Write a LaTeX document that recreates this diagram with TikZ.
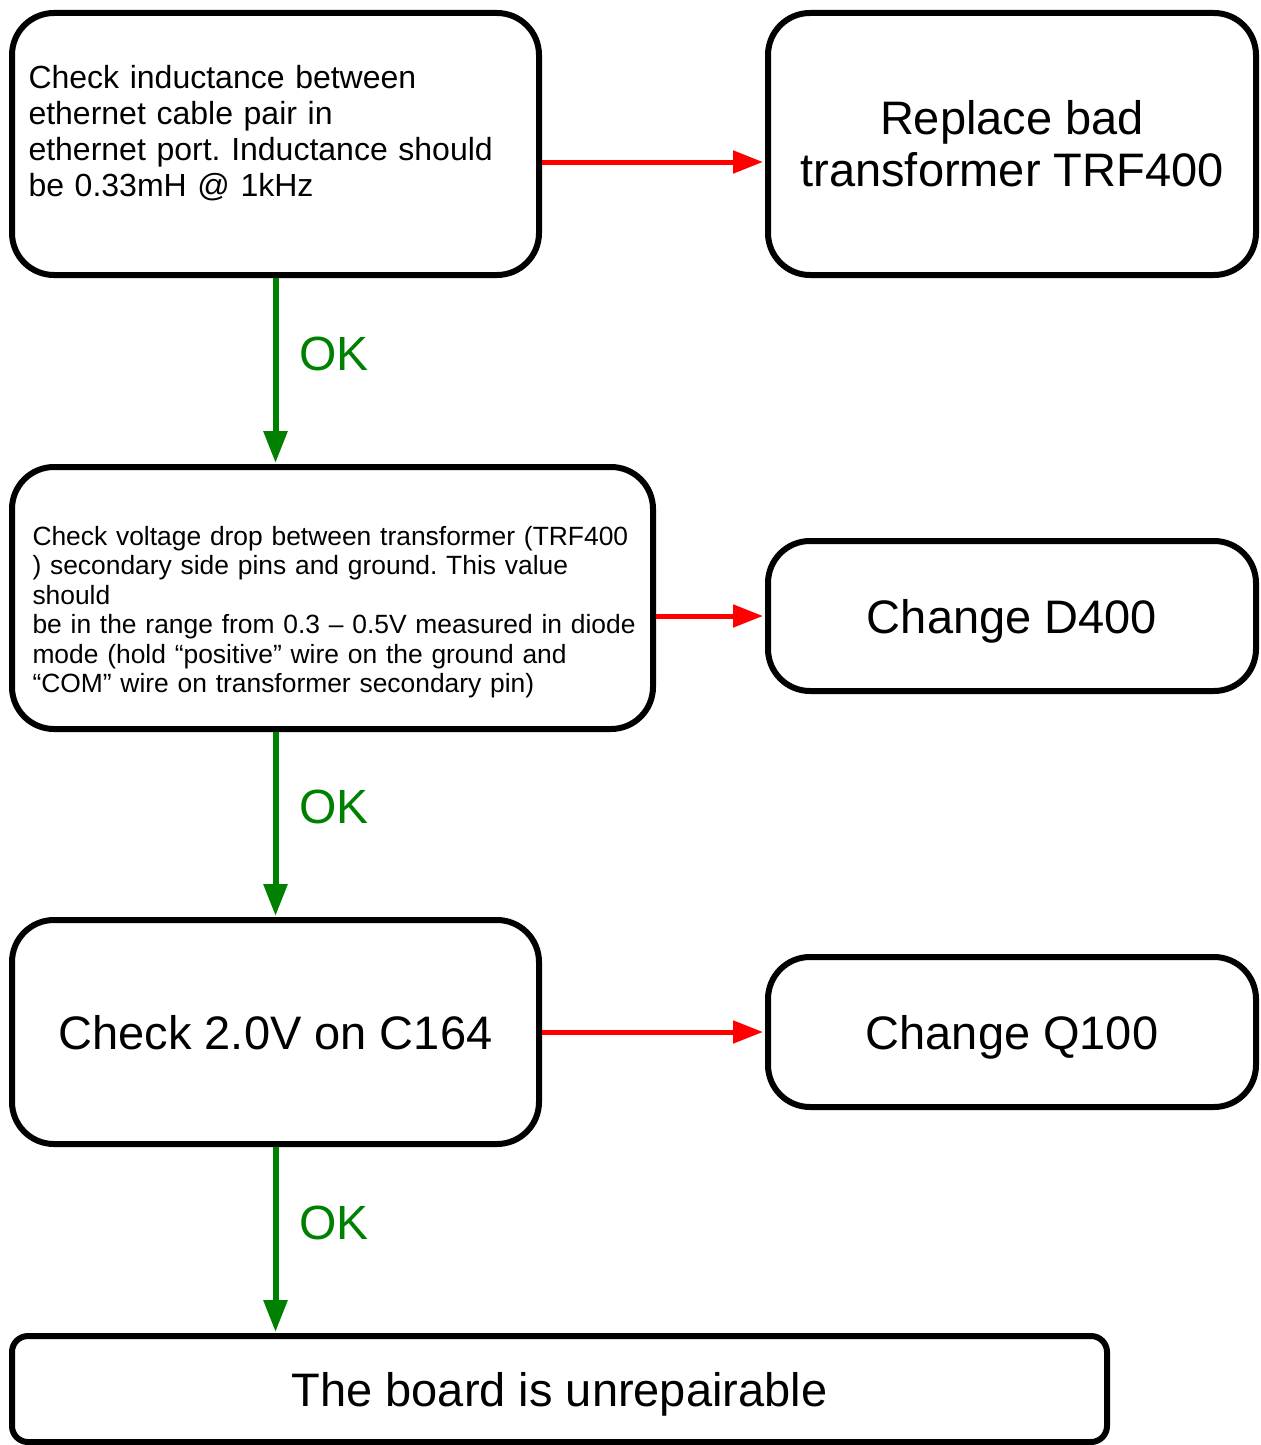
\documentclass[tikz,border=0pt]{standalone}
\usepackage{fontspec}
\setmainfont{Liberation Sans}
\usetikzlibrary{arrows.meta}
\definecolor{okgreen}{RGB}{0,128,0}
\definecolor{nored}{RGB}{255,0,0}
\begin{document}
\frenchspacing
\begin{tikzpicture}[x=0.5pt,y=-0.5pt,
  box/.style={draw=black,line width=3pt,rounded corners=21pt,inner sep=0pt,fill=white},
  bigtext/.style={font=\fontsize{23.5}{26}\selectfont,align=center},
  redarrow/.style={draw=nored,line width=2.5pt,shorten >=1pt,-{Triangle[length=15pt,width=11pt]}},
  greenarrow/.style={draw=okgreen,line width=3pt,shorten >=0.5pt,-{Triangle[length=16pt,width=11.5pt]}},
  oklabel/.style={text=okgreen,font=\fontsize{24}{28}\selectfont,anchor=west,inner sep=0pt}]
\useasboundingbox (0,0) rectangle (1260,1445);

\node[box,minimum width=263.5pt,minimum height=131pt,text width=247pt,inner xsep=8.25pt,align=left,font=\fontsize{16}{18}\selectfont\frenchspacing] (b1) at (275.5,144)
  {Check inductance between\\ethernet cable pair in\\ethernet port. Inductance should\\be 0.33mH @ 1kHz\rule[-13.5pt]{0pt}{13.5pt}};
\node[box,bigtext,minimum width=244pt,minimum height=131pt] (b2) at (1012,144) {Replace bad\\transformer TRF400};

\node[box,minimum width=320.5pt,minimum height=131pt,text width=304pt,inner xsep=8.25pt,align=left,font=\fontsize{13.2}{14.75}\selectfont\frenchspacing] (b3) at (332.5,598)
  {\hspace*{2pt}\rule{0pt}{23.5pt}Check voltage drop between transformer (TRF400\\\hspace*{2pt}) secondary side pins and ground. This value\\\hspace*{2pt}should\\\hspace*{2pt}be in the range from 0.3 – 0.5V measured in diode\\\hspace*{2pt}mode (hold “positive” wire on the ground and\\\hspace*{2pt}“COM” wire on transformer secondary pin)};
\node[box,bigtext,text depth=0pt,minimum width=244pt,minimum height=75pt] (b4) at (1012,616) {Change D400};

\node[box,bigtext,text depth=0pt,minimum width=263.5pt,minimum height=112pt] (b5) at (275.5,1032) {Check 2.0V on C164};
\node[box,bigtext,text depth=0pt,minimum width=244pt,minimum height=75pt] (b6) at (1012,1032) {Change Q100};

\node[box,bigtext,text depth=0pt,rounded corners=8pt,minimum width=547.5pt,minimum height=53pt] (b7) at (559.5,1389) {The board is unrepairable};

\draw[redarrow] ([yshift=-9pt]b1.east) -- ([yshift=-9pt]b2.west);
\draw[redarrow] (b3.east |- b4.west) -- (b4.west);
\draw[redarrow] (b5.east) -- (b6.west);

\draw[greenarrow] (b1.south) -- (b1.south |- b3.north);
\draw[greenarrow] (b5.north |- b3.south) -- (b5.north);
\draw[greenarrow] (b5.south) -- (b5.south |- b7.north);

\node[oklabel] (ok1) at (299,354) {OK};
\node[oklabel] (ok2) at (299,807) {OK};
\node[oklabel] (ok3) at (299,1223) {OK};
\end{tikzpicture}
\end{document}
